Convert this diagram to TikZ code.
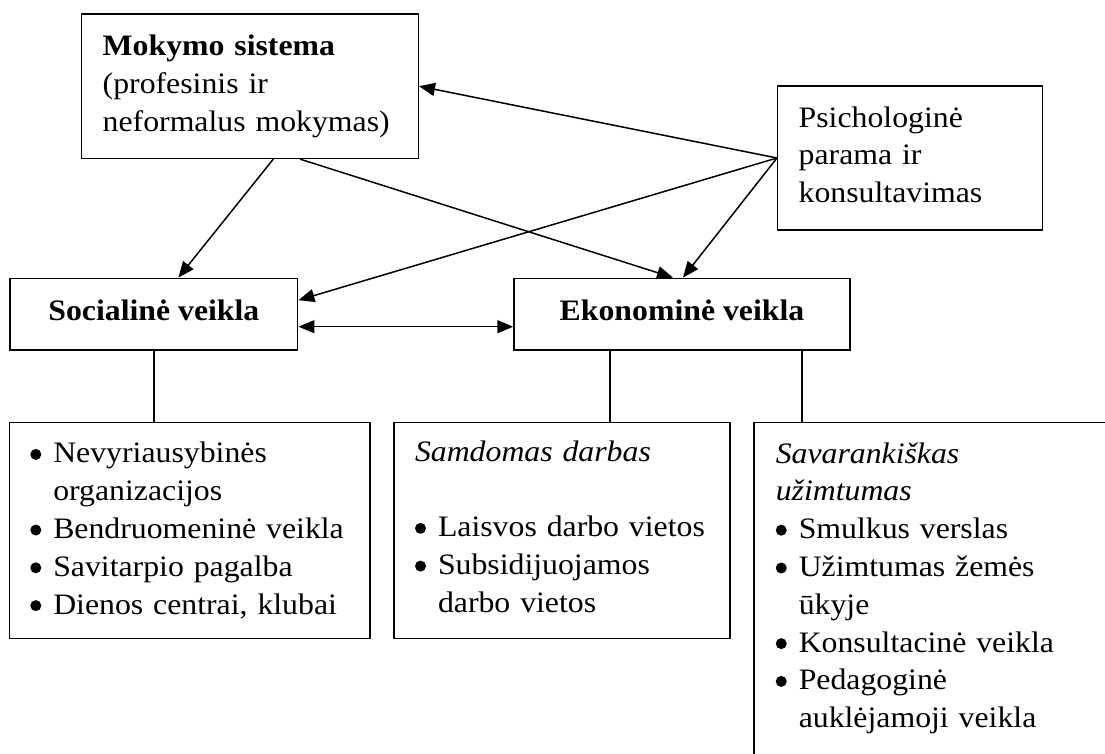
\documentclass[tikz,border=0pt]{standalone}
\usepackage{fontspec}
\setmainfont{Liberation Serif}[FakeStretch=1.07]
\usetikzlibrary{arrows.meta}
\newcommand{\dotmark}{\tikz[baseline=0pt]\fill (5.5pt,8.5pt) circle (5.5pt);}
\newcommand{\itm}[1]{\mbox{\makebox[23pt][l]{\dotmark}#1}}
\newcommand{\cont}[1]{\mbox{\hspace*{23pt}#1}}
\tikzset{
  box/.style={draw, line width=1.5pt, inner xsep=21pt, inner ysep=0pt,
    font={\fontsize{29.7}{37.8}\selectfont}},
  link/.style={line width=1.5pt, -{Triangle[length=16pt,width=13pt]}},
  plain/.style={line width=1.5pt},
}
\begin{document}
\begin{tikzpicture}[x=1pt, y=-1pt]
    \useasboundingbox (0,0) rectangle (1105,754);
    \clip (0,0) rectangle (1105,754);

    \node[box, minimum width=336.6pt, minimum height=144.3pt, text width=294.6pt, align=left] (mok) at (250,86.2)
        {\mbox{\textbf{Mokymo sistema}}\\\mbox{(profesinis ir}\\\mbox{neformalus mokymas)}};
    \node[box, minimum width=265pt, minimum height=144pt, text width=223pt, align=left] (psy) at (910.2,158)
        {Psichologinė\\\mbox{parama ir}\\konsultavimas\rule[-7pt]{0pt}{7pt}};
    \node[box, minimum width=287.7pt, minimum height=71.7pt, text depth=9pt] (soc) at (153.85,314.2)
        {\textbf{Socialinė veikla}};
    \node[box, minimum width=336pt, minimum height=71.7pt, text depth=9pt] (eko) at (682,314.2)
        {\textbf{Ekonominė veikla}};

    \node[box, minimum width=360.7pt, minimum height=215.6pt, text width=318.7pt, align=left] (ngo) at (189.65,530.5)
        {\itm{Nevyriausybinės}\\\cont{organizacijos}\\\itm{Bendruomeninė veikla}\\\itm{Savitarpio pagalba}\\\itm{Dienos centrai, klubai}};
    \node[box, minimum width=336pt, minimum height=215.6pt, text width=294pt, align=left] (hire) at (562,530.5)
        {\mbox{\textit{Samdomas darbas}}\\[37.8pt]\itm{Laisvos darbo vietos}\\\itm{Subsidijuojamos}\\\cont{darbo vietos}\rule[-8pt]{0pt}{8pt}};
    \node[box, draw=none, anchor=north west, inner ysep=19pt, text width=330pt, align=left] (sav) at (754,422.7)
        {\textit{Savarankiškas}\\\textit{užimtumas}\\\itm{Smulkus verslas}\\\itm{Užimtumas žemės}\\\cont{ūkyje}\\\itm{Konsultacinė veikla}\\\itm{Pedagoginė}\\\cont{auklėjamoji veikla}};
    \draw[plain] (sav.north west) ++(0,400) -- (sav.north west) -- ++(500,0);

    \draw[link] ([xshift=23.3pt]mok.south) -- ([xshift=24.5pt]soc.north);
    \draw[link] ([xshift=50pt]mok.south) -- ([xshift=-9pt]eko.north);
    \draw[link] (psy.west) -- (mok.east);
    \draw[link] (psy.west) -- ([yshift=14pt]soc.east);
    \draw[link] (psy.west) -- ([xshift=1pt]eko.north);
    \draw[link, {Triangle[length=16pt,width=13pt]}-{Triangle[length=16pt,width=13pt]}] ([yshift=-12.5pt]soc.east) -- ([yshift=-12.5pt]eko.west);

    \draw[plain] (soc.south) -- (soc.south |- ngo.north);
    \draw[plain] ([xshift=-72pt]eko.south) -- ([xshift=-72pt]eko.south |- hire.north);
    \draw[plain] ([xshift=120pt]eko.south) -- ([xshift=120pt]eko.south |- sav.north);
\end{tikzpicture}
\end{document}
